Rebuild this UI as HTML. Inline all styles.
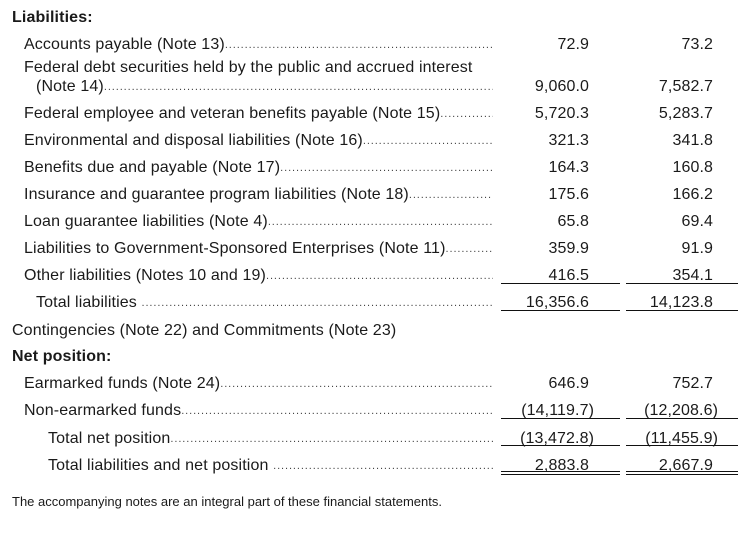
<!DOCTYPE html>
<html><head><meta charset="utf-8"><style>
body{margin:0;width:756px;height:537px;background:#fff;position:relative;font-family:"Liberation Sans",Arial,sans-serif;color:#1a1a1a;overflow:hidden}
.r{position:absolute;left:0;height:20px;line-height:20px;font-size:16px;letter-spacing:0.13px;white-space:nowrap}
.l{position:absolute;display:flex;right:0;overflow:hidden}
.lab{flex:none}
.dots{flex:1;overflow:hidden;font-size:11px;letter-spacing:0.9px;color:#444}
.n{position:absolute;font-size:16px;letter-spacing:0.1px;line-height:20px;text-align:right;white-space:nowrap}
.ln{position:absolute;height:1px;background:#111}
b{font-weight:bold}
</style></head><body>
<div class="r" style="top:8px;left:12px"><b>Liabilities:</b></div>

<div class="r" style="top:35px;left:24px;width:469px"><div class="l" style="left:0"><span class="lab">Accounts payable (Note 13)</span><span class="dots">......................................................................................................................</span></div></div>
<div class="r" style="top:58px;left:24px">Federal debt securities held by the public and accrued interest</div>
<div class="r" style="top:77px;left:36px;width:457px"><div class="l" style="left:0"><span class="lab">(Note 14)</span><span class="dots">..............................................................................................................................................</span></div></div>
<div class="r" style="top:104px;left:24px;width:469px"><div class="l" style="left:0"><span class="lab">Federal employee and veteran benefits payable (Note 15)</span><span class="dots">......................................................................</span></div></div>
<div class="r" style="top:131px;left:24px;width:469px"><div class="l" style="left:0"><span class="lab">Environmental and disposal liabilities (Note 16)</span><span class="dots">..........................................................................</span></div></div>
<div class="r" style="top:158px;left:24px;width:469px"><div class="l" style="left:0"><span class="lab">Benefits due and payable (Note 17)</span><span class="dots">..........................................................................................</span></div></div>
<div class="r" style="top:185px;left:24px;width:469px"><div class="l" style="left:0"><span class="lab">Insurance and guarantee program liabilities (Note 18)</span><span class="dots">................................................</span></div></div>
<div class="r" style="top:212px;left:24px;width:469px"><div class="l" style="left:0"><span class="lab">Loan guarantee liabilities (Note 4)</span><span class="dots">..............................................................................................</span></div></div>
<div class="r" style="top:239px;left:24px;width:469px"><div class="l" style="left:0"><span class="lab">Liabilities to Government-Sponsored Enterprises (Note 11)</span><span class="dots">..............................................</span></div></div>
<div class="r" style="top:266px;left:24px;width:469px"><div class="l" style="left:0"><span class="lab">Other liabilities (Notes 10 and 19)</span><span class="dots">..............................................................................................</span></div></div>
<div class="r" style="top:293px;left:36px;width:457px"><div class="l" style="left:0"><span class="lab">Total liabilities&nbsp;</span><span class="dots">..............................................................................................................................................</span></div></div>
<div class="r" style="top:321px;left:12px">Contingencies (Note 22) and Commitments (Note 23)</div>
<div class="r" style="top:347px;left:12px"><b>Net position:</b></div>
<div class="r" style="top:374px;left:24px;width:469px"><div class="l" style="left:0"><span class="lab">Earmarked funds (Note 24)</span><span class="dots">..............................................................................................................</span></div></div>
<div class="r" style="top:401px;left:24px;width:469px"><div class="l" style="left:0"><span class="lab">Non-earmarked funds</span><span class="dots">..............................................................................................................................</span></div></div>
<div class="r" style="top:429px;left:48px;width:445px"><div class="l" style="left:0"><span class="lab">Total net position</span><span class="dots">..............................................................................................................................</span></div></div>
<div class="r" style="top:456px;left:48px;width:445px"><div class="l" style="left:0"><span class="lab">Total liabilities and net position&nbsp;</span><span class="dots">..............................................................................................................</span></div></div>

<div style="position:absolute;top:494px;left:12px;font-size:13px;line-height:16px">The accompanying notes are an integral part of these financial statements.</div>

<div class="n" style="top:35px;right:167px">72.9</div><div class="n" style="top:35px;right:43px">73.2</div>
<div class="n" style="top:77px;right:167px">9,060.0</div><div class="n" style="top:77px;right:43px">7,582.7</div>
<div class="n" style="top:104px;right:167px">5,720.3</div><div class="n" style="top:104px;right:43px">5,283.7</div>
<div class="n" style="top:131px;right:167px">321.3</div><div class="n" style="top:131px;right:43px">341.8</div>
<div class="n" style="top:158px;right:167px">164.3</div><div class="n" style="top:158px;right:43px">160.8</div>
<div class="n" style="top:185px;right:167px">175.6</div><div class="n" style="top:185px;right:43px">166.2</div>
<div class="n" style="top:212px;right:167px">65.8</div><div class="n" style="top:212px;right:43px">69.4</div>
<div class="n" style="top:239px;right:167px">359.9</div><div class="n" style="top:239px;right:43px">91.9</div>
<div class="n" style="top:266px;right:167px">416.5</div><div class="n" style="top:266px;right:43px">354.1</div>
<div class="n" style="top:293px;right:167px">16,356.6</div><div class="n" style="top:293px;right:43px">14,123.8</div>
<div class="n" style="top:374px;right:167px">646.9</div><div class="n" style="top:374px;right:43px">752.7</div>
<div class="n" style="top:401px;right:162px">(14,119.7)</div><div class="n" style="top:401px;right:38px">(12,208.6)</div>
<div class="n" style="top:429px;right:162px">(13,472.8)</div><div class="n" style="top:429px;right:38px">(11,455.9)</div>
<div class="n" style="top:456px;right:167px">2,883.8</div><div class="n" style="top:456px;right:43px">2,667.9</div>

<div class="ln" style="top:283px;left:501px;width:119px"></div><div class="ln" style="top:283px;left:626px;width:112px"></div>
<div class="ln" style="top:310px;left:501px;width:119px"></div><div class="ln" style="top:310px;left:626px;width:112px"></div>
<div class="ln" style="top:418px;left:501px;width:119px"></div><div class="ln" style="top:418px;left:626px;width:112px"></div>
<div class="ln" style="top:445px;left:501px;width:119px"></div><div class="ln" style="top:445px;left:626px;width:112px"></div>
<div class="ln" style="top:471px;left:501px;width:119px"></div><div class="ln" style="top:471px;left:626px;width:112px"></div>
<div class="ln" style="top:474px;left:501px;width:119px"></div><div class="ln" style="top:474px;left:626px;width:112px"></div>
</body></html>
